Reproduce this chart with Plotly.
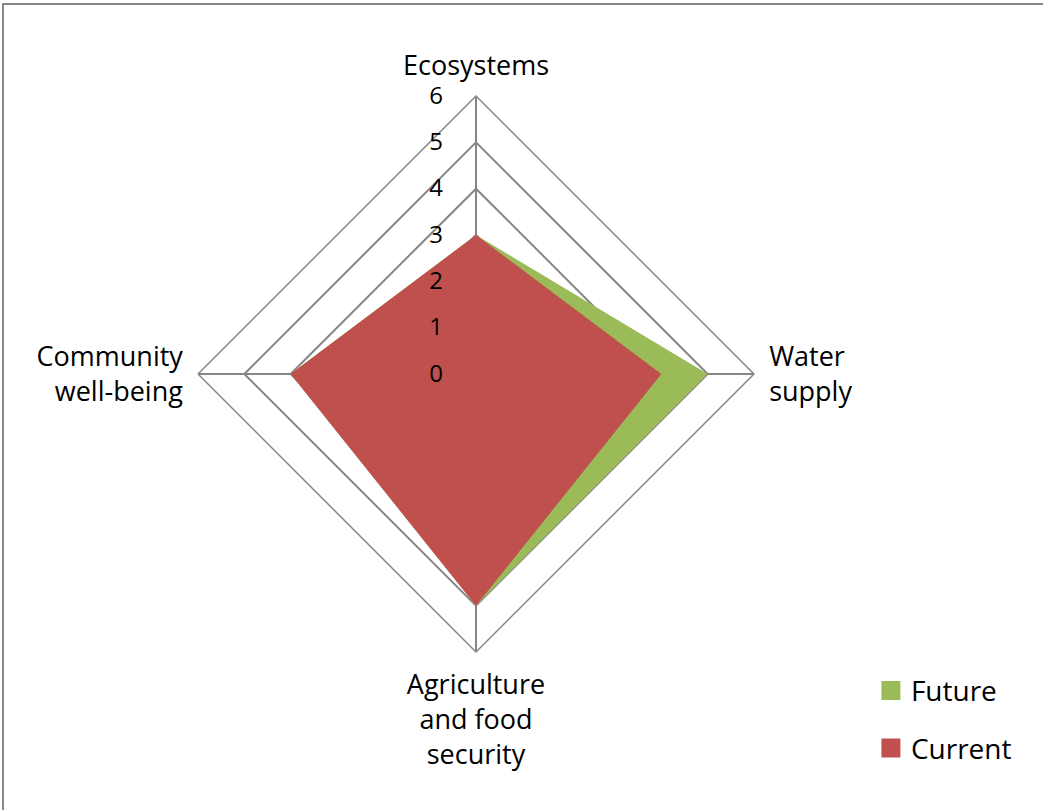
import plotly.graph_objects as go

categories = ["Ecosystems", "Water<br>supply", "Agriculture<br>and food<br>security", "Community<br>well-being"]
future = [3, 5, 5, 4]
current = [3, 4, 5, 4]
radial_ticks = [0, 1, 2, 3, 4, 5, 6]
series_names = ["Future", "Current"]
series_colors = ["#9BBB59", "#C0504D"]

W, H = 1043, 810
cx, cy, R = 476, 374, 278

fig = go.Figure()
for name, vals, col in zip(series_names, [future, current], series_colors):
    fig.add_trace(go.Scatterpolar(
        r=vals + [vals[0]], theta=categories + [categories[0]],
        fill="toself", fillcolor=col, mode="none",
        name=name, legendgroup=name, showlegend=False, hoverinfo="skip"))
# legend-only entries with square swatches
for name, col in zip(series_names, series_colors):
    fig.add_trace(go.Scatterpolar(
        r=[None], theta=[categories[0]], mode="markers",
        marker=dict(symbol="square", size=16, color=col, line=dict(color=col, width=3)),
        name=name, legendgroup=name, showlegend=True))

font_family = "Open Sans, Liberation Sans, sans-serif"

fig.update_layout(
    width=W, height=H,
    margin=dict(l=0, r=0, t=0, b=0),
    paper_bgcolor="white",
    font=dict(family=font_family, size=27, color="black"),
    polar=dict(
        domain=dict(x=[(cx - R) / W, (cx + R) / W], y=[1 - (cy + R) / H, 1 - (cy - R) / H]),
        bgcolor="rgba(0,0,0,0)",
        gridshape="linear",
        angularaxis=dict(
            rotation=90, direction="clockwise",
            showline=True, linecolor="#868686", linewidth=1.5,
            gridcolor="#868686", gridwidth=1.5,
            ticks="outside", ticklen=9, tickcolor="rgba(0,0,0,0)",
            tickfont=dict(size=27, family=font_family),
            layer="above traces",
        ),
        radialaxis=dict(
            range=[0, 6], tickvals=radial_ticks, angle=90, tickangle=90,
            showline=False, gridcolor="#868686", gridwidth=1.5,
            ticks="outside", ticklen=24, tickcolor="rgba(0,0,0,0)",
            tickfont=dict(size=24, family=font_family),
            side="counterclockwise",
            layer="above traces",
        ),
    ),
    legend=dict(x=0.835, y=0.178, xanchor="left", yanchor="top",
                font=dict(size=28, family=font_family), tracegroupgap=18,
                bgcolor="rgba(0,0,0,0)"),
    shapes=[dict(type="rect", xref="paper", yref="paper",
                 x0=3 / W, x1=1.02, y0=-0.02, y1=1 - 4 / H,
                 line=dict(color="#868686", width=2), fillcolor="rgba(0,0,0,0)",
                 layer="below")],
)

fig.write_html("out.html", config={"displayModeBar": False},
               post_script="document.body.style.margin='0';")
